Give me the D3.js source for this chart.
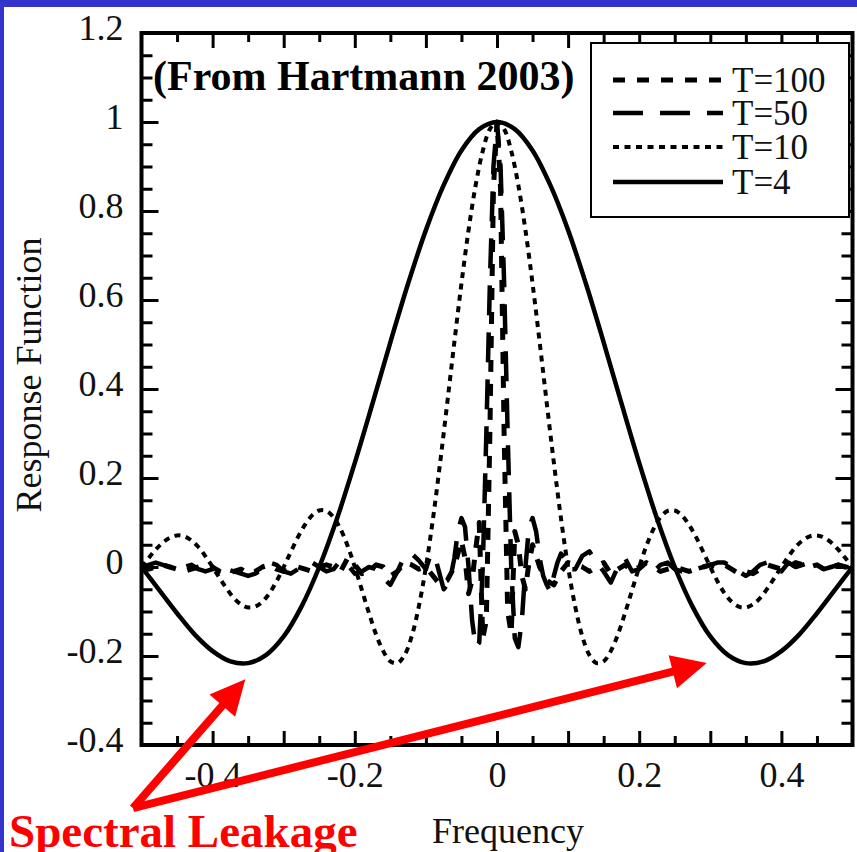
<!DOCTYPE html>
<html>
<head>
<meta charset="utf-8">
<script src="https://cdn.jsdelivr.net/npm/d3@7"></script>
<style>
  html, body { margin: 0; padding: 0; background: #fff; }
  svg { display: block; }
</style>
</head>
<body>
<script>
// ---- data: [frequency, response] ----
const t4 = [
  [-0.5, 0], [-0.475, -0.052], [-0.45, -0.104], [-0.425, -0.152], [-0.4, -0.189],
  [-0.375, -0.212], [-0.35, -0.216], [-0.325, -0.198], [-0.3, -0.156], [-0.275, -0.089],
  [-0.25, 0], [-0.225, 0.109], [-0.2, 0.234], [-0.175, 0.368], [-0.15, 0.505],
  [-0.125, 0.637], [-0.1, 0.757], [-0.075, 0.858], [-0.05, 0.936], [-0.025, 0.984],
  [0, 1],
  [0.025, 0.984], [0.05, 0.936], [0.075, 0.858], [0.1, 0.757], [0.125, 0.637],
  [0.15, 0.505], [0.175, 0.368], [0.2, 0.234], [0.225, 0.109], [0.25, 0],
  [0.275, -0.089], [0.3, -0.156], [0.325, -0.198], [0.35, -0.216], [0.375, -0.212],
  [0.4, -0.189], [0.425, -0.152], [0.45, -0.104], [0.475, -0.052], [0.5, 0]
];

const t10 = [
  [-0.5, 0], [-0.49, 0.020], [-0.48, 0.039], [-0.47, 0.055], [-0.46, 0.066],
  [-0.45, 0.071], [-0.44, 0.069], [-0.43, 0.060], [-0.42, 0.045], [-0.41, 0.024],
  [-0.4, 0], [-0.39, -0.025], [-0.38, -0.049], [-0.37, -0.070], [-0.36, -0.084],
  [-0.35, -0.091], [-0.34, -0.089], [-0.33, -0.078], [-0.32, -0.059], [-0.31, -0.032],
  [-0.3, 0], [-0.29, 0.034], [-0.28, 0.067], [-0.27, 0.095], [-0.26, 0.116],
  [-0.25, 0.127], [-0.24, 0.126], [-0.23, 0.112], [-0.22, 0.085], [-0.21, 0.047],
  [-0.2, 0], [-0.19, -0.052], [-0.18, -0.104], [-0.17, -0.152], [-0.16, -0.189],
  [-0.15, -0.212], [-0.14, -0.216], [-0.13, -0.198], [-0.12, -0.156], [-0.11, -0.089],
  [-0.1, 0], [-0.09, 0.109], [-0.08, 0.234], [-0.07, 0.368], [-0.06, 0.505],
  [-0.05, 0.637], [-0.04, 0.757], [-0.03, 0.858], [-0.02, 0.935], [-0.01, 0.984],
  [0, 1],
  [0.01, 0.984], [0.02, 0.935], [0.03, 0.858], [0.04, 0.757], [0.05, 0.637],
  [0.06, 0.505], [0.07, 0.368], [0.08, 0.234], [0.09, 0.109], [0.1, 0],
  [0.11, -0.089], [0.12, -0.156], [0.13, -0.198], [0.14, -0.216], [0.15, -0.212],
  [0.16, -0.189], [0.17, -0.152], [0.18, -0.104], [0.19, -0.052], [0.2, 0],
  [0.21, 0.047], [0.22, 0.085], [0.23, 0.112], [0.24, 0.126], [0.25, 0.127],
  [0.26, 0.116], [0.27, 0.095], [0.28, 0.067], [0.29, 0.034], [0.3, 0],
  [0.31, -0.032], [0.32, -0.059], [0.33, -0.078], [0.34, -0.089], [0.35, -0.091],
  [0.36, -0.084], [0.37, -0.070], [0.38, -0.049], [0.39, -0.025], [0.4, 0],
  [0.41, 0.024], [0.42, 0.045], [0.43, 0.060], [0.44, 0.069], [0.45, 0.071],
  [0.46, 0.066], [0.47, 0.055], [0.48, 0.039], [0.49, 0.020], [0.5, 0]
];

const t50 = [
  [-0.5, 0], [-0.49, 0.005], [-0.48, 0.01], [-0.47, 0.005], [-0.46, 0],
  [-0.45, -0.005], [-0.44, 0], [-0.43, 0.005], [-0.42, -0.005], [-0.41, -0.01],
  [-0.4, -0.005], [-0.39, 0], [-0.38, -0.005], [-0.37, -0.01], [-0.36, -0.015],
  [-0.35, -0.02], [-0.34, -0.015], [-0.33, -0.005], [-0.32, 0.01], [-0.31, 0.005],
  [-0.3, -0.01], [-0.29, -0.015], [-0.28, -0.005], [-0.27, 0.005], [-0.26, 0.01],
  [-0.25, 0], [-0.24, -0.01], [-0.23, -0.005], [-0.22, 0.015], [-0.21, 0.005],
  [-0.2, -0.015], [-0.19, -0.01], [-0.18, 0], [-0.17, -0.005], [-0.16, -0.025],
  [-0.15, -0.04], [-0.14, -0.01], [-0.13, 0.025], [-0.12, 0.03], [-0.11, 0.015],
  [-0.1, -0.005], [-0.095, 0.02], [-0.09, 0.03], [-0.085, 0.01], [-0.08, -0.02],
  [-0.075, -0.05], [-0.07, -0.04], [-0.065, -0.02], [-0.06, 0.02], [-0.055, 0.08],
  [-0.05, 0.11], [-0.045, 0.09], [-0.04, 0], [-0.035, -0.12], [-0.03, -0.18],
  [-0.025, -0.17], [-0.02, 0], [-0.015, 0.30], [-0.01, 0.64], [-0.005, 0.90],
  [0, 1],
  [0.005, 0.90], [0.01, 0.64], [0.015, 0.30], [0.02, 0], [0.025, -0.16],
  [0.03, -0.18], [0.035, -0.12], [0.04, 0], [0.045, 0.09], [0.05, 0.11],
  [0.055, 0.08], [0.06, 0.02], [0.065, -0.02], [0.07, -0.04], [0.075, -0.055],
  [0.08, -0.02], [0.085, 0.01], [0.09, 0.03], [0.095, 0.02], [0.1, -0.005],
  [0.11, -0.005], [0.12, 0.025], [0.13, 0.035], [0.14, 0.01], [0.15, -0.01],
  [0.16, -0.035], [0.17, 0], [0.18, 0.02], [0.19, -0.01], [0.2, -0.005],
  [0.21, 0.01], [0.22, -0.01], [0.23, 0.005], [0.24, 0.01], [0.25, -0.005],
  [0.26, -0.01], [0.27, -0.01], [0.28, -0.005], [0.29, 0], [0.3, 0.005],
  [0.31, 0.01], [0.32, 0.01], [0.33, 0], [0.34, -0.01], [0.35, -0.02],
  [0.36, -0.01], [0.37, 0.005], [0.38, 0.01], [0.39, -0.005], [0.4, -0.01],
  [0.41, 0.01], [0.42, 0], [0.43, 0.005], [0.44, 0.01], [0.45, 0.005],
  [0.46, -0.005], [0.47, 0], [0.48, 0.005], [0.49, 0], [0.5, 0]
];

const t100 = [
  [-0.5, 0], [-0.49, -0.005], [-0.48, 0], [-0.47, 0.005], [-0.46, 0],
  [-0.45, -0.005], [-0.44, -0.01], [-0.43, -0.005], [-0.42, 0], [-0.41, 0.005],
  [-0.4, 0], [-0.39, -0.01], [-0.38, -0.015], [-0.37, -0.01], [-0.36, -0.005],
  [-0.35, -0.015], [-0.34, -0.01], [-0.33, 0], [-0.32, 0.005], [-0.31, -0.005],
  [-0.3, -0.01], [-0.29, -0.005], [-0.28, 0], [-0.27, -0.005], [-0.26, -0.01],
  [-0.25, 0], [-0.24, 0.005], [-0.23, 0], [-0.22, -0.01], [-0.21, 0.02],
  [-0.2, 0.005], [-0.19, -0.015], [-0.18, -0.01], [-0.17, 0.005], [-0.16, 0],
  [-0.15, -0.02], [-0.14, -0.01], [-0.13, 0.01], [-0.12, 0.005], [-0.11, -0.005],
  [-0.1, 0], [-0.09, -0.02], [-0.08, -0.04], [-0.07, -0.03], [-0.06, 0],
  [-0.05, 0.06], [-0.045, 0.02], [-0.04, -0.06], [-0.035, -0.03], [-0.03, 0.04],
  [-0.025, 0.1], [-0.02, -0.16], [-0.015, -0.12], [-0.01, 0.3], [-0.005, 0.85],
  [0, 1],
  [0.005, 0.85], [0.01, 0.3], [0.015, -0.1], [0.02, -0.15], [0.025, 0.08],
  [0.03, 0.05], [0.035, -0.02], [0.04, -0.05], [0.045, 0.01], [0.05, 0.05],
  [0.06, 0], [0.07, -0.03], [0.08, -0.04], [0.09, -0.01], [0.1, 0.01],
  [0.11, 0.005], [0.12, 0], [0.13, -0.01], [0.14, 0], [0.15, 0.01],
  [0.16, -0.015], [0.17, -0.005], [0.18, 0.005], [0.19, -0.01], [0.2, 0],
  [0.21, 0.01], [0.22, 0], [0.23, -0.01], [0.24, -0.005], [0.25, 0],
  [0.26, -0.005], [0.27, -0.01], [0.28, -0.005], [0.29, 0], [0.3, 0.005],
  [0.31, 0], [0.32, 0.005], [0.33, -0.005], [0.34, -0.015], [0.35, -0.01],
  [0.36, -0.015], [0.37, -0.005], [0.38, 0.005], [0.39, 0], [0.4, -0.005],
  [0.41, 0], [0.42, 0.01], [0.43, 0.005], [0.44, 0], [0.45, 0.005],
  [0.46, -0.005], [0.47, 0], [0.48, 0.005], [0.49, 0], [0.5, 0]
];

// ticks and labels
const xLabelVals = [-0.4, -0.2, 0, 0.2, 0.4];
const xLabels = ["-0.4", "-0.2", "0", "0.2", "0.4"];
const xMajorTicks = [-0.4, -0.3, -0.2, -0.1, 0, 0.1, 0.2, 0.3, 0.4];
const xMinorTicks = [-0.45, -0.35, -0.25, -0.15, -0.05, 0.05, 0.15, 0.25, 0.35, 0.45];
const yLabelVals = [-0.4, -0.2, 0, 0.2, 0.4, 0.6, 0.8, 1, 1.2];
const yLabels = ["-0.4", "-0.2", "0", "0.2", "0.4", "0.6", "0.8", "1", "1.2"];
const yMinorTicks = [-0.35, -0.3, -0.25, -0.15, -0.1, -0.05, 0.05, 0.1, 0.15,
  0.25, 0.3, 0.35, 0.45, 0.5, 0.55, 0.65, 0.7, 0.75, 0.85, 0.9, 0.95, 1.05, 1.1, 1.15];

// annotation arrows (data units): common tail, two heads
const arrowTail = [-0.512, -0.542];
const arrowHeads = [[-0.354, -0.252], [0.295, -0.216]];

const series = [
  { name: "T=100", data: t100, dash: "12,12", width: 5,   smooth: false },
  { name: "T=50",  data: t50,  dash: "30,17", width: 4.5, smooth: false },
  { name: "T=10",  data: t10,  dash: "6,5.5", width: 4,   smooth: true },
  { name: "T=4",   data: t4,   dash: null,    width: 4.5, smooth: true }
];

const FONT = "'Liberation Serif', 'Times New Roman', Times, serif";
const W = 857, H = 852;

const svg = d3.select("body").append("svg")
  .attr("width", W)
  .attr("height", H);

svg.append("rect").attr("width", W).attr("height", H).attr("fill", "#fff");

// slide frame (blue)
svg.append("rect").attr("x", 0).attr("y", 0).attr("width", W).attr("height", 7).attr("fill", "#3434cc");
svg.append("rect").attr("x", 0).attr("y", 0).attr("width", 4).attr("height", H).attr("fill", "#3434cc");

const x = d3.scaleLinear().domain([-0.5, 0.5]).range([141.5, 852.5]);
const y = d3.scaleLinear().domain([-0.4, 1.2]).range([745, 33]);

svg.append("clipPath").attr("id", "plot-clip")
  .append("rect")
  .attr("x", x(-0.5)).attr("y", y(1.2))
  .attr("width", x(0.5) - x(-0.5)).attr("height", y(-0.4) - y(1.2));

// curves
const plot = svg.append("g").attr("clip-path", "url(#plot-clip)");
series.slice().reverse().forEach(s => {
  const line = d3.line()
    .x(d => x(d[0]))
    .y(d => y(d[1]))
    .curve(s.smooth ? d3.curveCatmullRom : d3.curveLinear);
  plot.append("path")
    .datum(s.data)
    .attr("fill", "none")
    .attr("stroke", "#000")
    .attr("stroke-width", s.width)
    .attr("stroke-dasharray", s.dash)
    .attr("stroke-linejoin", "round")
    .attr("d", line);
});

// axes: ticks point inward on all four sides
function styleAxis(g) {
  g.select(".domain").remove();
  g.selectAll(".tick line").attr("stroke", "#000").attr("stroke-width", 3);
  g.selectAll("text")
    .attr("font-family", FONT)
    .attr("font-size", 36)
    .attr("fill", "#111");
}

svg.append("g").attr("transform", `translate(0,${y(-0.4)})`)
  .call(d3.axisBottom(x).tickValues(xMinorTicks).tickSize(-9).tickFormat(""))
  .call(styleAxis);
svg.append("g").attr("transform", `translate(0,${y(-0.4)})`)
  .call(d3.axisBottom(x).tickValues(xMajorTicks).tickSize(-14).tickFormat(""))
  .call(styleAxis);
svg.append("g").attr("transform", `translate(0,${y(-0.4)})`)
  .call(d3.axisBottom(x).tickValues(xLabelVals).tickSize(0).tickPadding(16)
    .tickFormat((d, i) => xLabels[i]))
  .call(styleAxis);

svg.append("g").attr("transform", `translate(0,${y(1.2)})`)
  .call(d3.axisTop(x).tickValues(xMinorTicks).tickSize(-9).tickFormat(""))
  .call(styleAxis);
svg.append("g").attr("transform", `translate(0,${y(1.2)})`)
  .call(d3.axisTop(x).tickValues(xMajorTicks).tickSize(-15).tickFormat(""))
  .call(styleAxis);

svg.append("g").attr("transform", `translate(${x(-0.5)},0)`)
  .call(d3.axisLeft(y).tickValues(yMinorTicks).tickSize(-11).tickFormat(""))
  .call(styleAxis);
svg.append("g").attr("transform", `translate(${x(-0.5)},0)`)
  .call(d3.axisLeft(y).tickValues(yLabelVals).tickSize(-17).tickPadding(18)
    .tickFormat((d, i) => yLabels[i]))
  .call(styleAxis)
  .call(g => g.selectAll("text").attr("dy", "0.17em"));

svg.append("g").attr("transform", `translate(${x(0.5)},0)`)
  .call(d3.axisRight(y).tickValues(yMinorTicks).tickSize(-11).tickFormat(""))
  .call(styleAxis);
svg.append("g").attr("transform", `translate(${x(0.5)},0)`)
  .call(d3.axisRight(y).tickValues(yLabelVals).tickSize(-17).tickFormat(""))
  .call(styleAxis);

// plot frame
svg.append("rect")
  .attr("x", x(-0.5)).attr("y", y(1.2))
  .attr("width", x(0.5) - x(-0.5)).attr("height", y(-0.4) - y(1.2))
  .attr("fill", "none")
  .attr("stroke", "#000")
  .attr("stroke-width", 4);

// axis titles
svg.append("text")
  .attr("x", 508).attr("y", 843)
  .attr("text-anchor", "middle")
  .attr("font-family", FONT).attr("font-size", 36).attr("fill", "#111")
  .text("Frequency");

svg.append("text")
  .attr("transform", "translate(41,375) rotate(-90)")
  .attr("text-anchor", "middle")
  .attr("font-family", FONT).attr("font-size", 36).attr("fill", "#111")
  .text("Response Function");

// source note
svg.append("text")
  .attr("x", 153).attr("y", 90)
  .attr("font-family", FONT).attr("font-size", 42).attr("font-weight", "bold")
  .attr("fill", "#000")
  .text("(From Hartmann 2003)");

// legend
const legend = svg.append("g");
legend.append("rect")
  .attr("x", 591).attr("y", 43).attr("width", 258).attr("height", 174)
  .attr("fill", "#fff").attr("stroke", "#000").attr("stroke-width", 2);

const legendRows = [80, 113, 147, 182];
series.forEach((s, i) => {
  legend.append("line")
    .attr("x1", 613).attr("x2", 723)
    .attr("y1", legendRows[i]).attr("y2", legendRows[i])
    .attr("stroke", "#000")
    .attr("stroke-width", s.width)
    .attr("stroke-dasharray", s.dash);
  legend.append("text")
    .attr("x", 732).attr("y", legendRows[i] + 12)
    .attr("font-family", FONT).attr("font-size", 35).attr("fill", "#111")
    .text(s.name);
});

// red annotation
const red = "#ff0000";
arrowHeads.forEach(h => {
  const x0 = x(arrowTail[0]), y0 = y(arrowTail[1]);
  const x1 = x(h[0]), y1 = y(h[1]);
  const ang = Math.atan2(y1 - y0, x1 - x0);
  const headLen = 35, headHalf = 17;
  const bx = x1 - headLen * Math.cos(ang), by = y1 - headLen * Math.sin(ang);
  svg.append("line")
    .attr("x1", x0).attr("y1", y0).attr("x2", bx + 4 * Math.cos(ang)).attr("y2", by + 4 * Math.sin(ang))
    .attr("stroke", red).attr("stroke-width", 8);
  svg.append("path")
    .attr("d", `M${x1},${y1}L${bx - headHalf * Math.sin(ang)},${by + headHalf * Math.cos(ang)}` +
      `L${bx + headHalf * Math.sin(ang)},${by - headHalf * Math.cos(ang)}Z`)
    .attr("fill", red);
});

svg.append("text")
  .attr("x", 9).attr("y", 847)
  .attr("font-family", FONT).attr("font-size", 47).attr("font-weight", "bold")
  .attr("fill", red)
  .text("Spectral Leakage");
</script>
</body>
</html>
